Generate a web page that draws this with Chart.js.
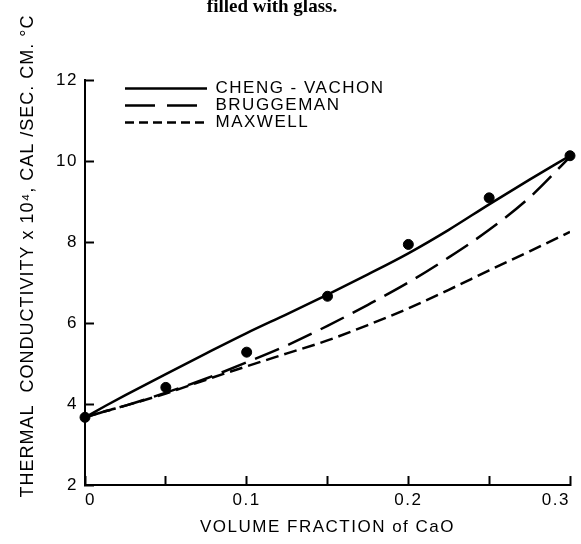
<!DOCTYPE html>
<html>
<head>
<meta charset="utf-8">
<script src="https://cdn.jsdelivr.net/npm/chart.js@4.4.0/dist/chart.umd.min.js"></script>
<style>
  html, body { margin: 0; padding: 0; background: #fff; }
</style>
</head>
<body>
<canvas id="chart" width="581" height="544"></canvas>
<script>
const curveFractions = [0, 0.0125, 0.025, 0.05, 0.075, 0.1, 0.125, 0.15, 0.175, 0.2, 0.225, 0.25, 0.275, 0.3];
const chengVachon = [3.67, 3.95, 4.22, 4.74, 5.25, 5.75, 6.22, 6.7, 7.2, 7.72, 8.3, 8.93, 9.54, 10.13];
const bruggeman   = [3.67, 3.82, 3.96, 4.28, 4.63, 5.03, 5.45, 5.93, 6.45, 7.0, 7.62, 8.3, 9.1, 10.1];
const maxwell     = [3.67, 3.82, 3.96, 4.26, 4.6, 4.93, 5.25, 5.57, 5.95, 6.36, 6.82, 7.3, 7.77, 8.25];

// measured points
const measuredFractions = [0, 0.05, 0.1, 0.15, 0.2, 0.25, 0.3];
const measuredValues = [3.67, 4.41, 5.28, 6.66, 7.94, 9.09, 10.13];

const seriesNames = ['CHENG - VACHON', 'BRUGGEMAN', 'MAXWELL'];
const caption = 'filled with glass.';
const xTitle = 'VOLUME FRACTION of CaO';
const yTitle = 'THERMAL  CONDUCTIVITY x 10\u2074, CAL /SEC. CM. \u00b0C';

const dashes = [[], [26, 10], [13, 6]];
const legendDashes = [[], [30, 12], [9, 5]];
const FONT = 'Liberation Sans';

const pairs = (xs, ys) => xs.map((x, i) => ({x: x, y: ys[i]}));

const curve = (i, values) => ({
    type: 'line',
    label: seriesNames[i],
    data: pairs(curveFractions, values),
    borderColor: '#000',
    borderWidth: 2.5,
    borderDash: dashes[i],
    pointRadius: 0,
    cubicInterpolationMode: 'monotone',
    fill: false
});

const textPlugin = {
    id: 'texts',
    afterLayout(chart) {
        // legend sits inside the plot, a bit in from the y axis
        if (chart.legend) {
            chart.legend.left = chart.chartArea.left + 40;
            chart.legend.top = chart.chartArea.top;
        }
    },
    beforeDraw(chart) {
        chart.ctx.letterSpacing = '1.5px';
    },
    afterDraw(chart) {
        const ctx = chart.ctx;
        ctx.save();
        ctx.fillStyle = '#000';
        ctx.textAlign = 'center';
        ctx.letterSpacing = '0px';
        ctx.font = 'bold 19px "Liberation Serif"';
        ctx.textBaseline = 'alphabetic';
        ctx.fillText(caption, 272, 12);
        ctx.translate(28, 256);
        ctx.rotate(-Math.PI / 2);
        ctx.letterSpacing = '1px';
        ctx.font = '18px "' + FONT + '"';
        ctx.textBaseline = 'middle';
        ctx.fillText(yTitle, 0, 0);
        ctx.restore();
    }
};

const ctx = document.getElementById('chart').getContext('2d');
new Chart(ctx, {
    data: {
        datasets: [
            curve(0, chengVachon),
            curve(1, bruggeman),
            curve(2, maxwell),
            {
                type: 'scatter',
                label: 'measured',
                data: pairs(measuredFractions, measuredValues),
                backgroundColor: '#000',
                borderColor: '#000',
                pointRadius: 5,
                clip: false
            }
        ]
    },
    options: {
        responsive: false,
        animation: false,
        layout: { padding: { top: 80, right: 11, left: 0, bottom: 0 } },
        plugins: {
            tooltip: { enabled: false },
            legend: {
                position: 'chartArea',
                align: 'start',
                labels: {
                    usePointStyle: true,
                    pointStyleWidth: 82,
                    padding: 0,
                    color: '#000',
                    font: { family: FONT, size: 17, lineHeight: 16 / 17 },
                    generateLabels: () => seriesNames.map((name, i) => ({
                        text: name,
                        datasetIndex: i,
                        hidden: false,
                        pointStyle: 'line',
                        strokeStyle: '#000',
                        fillStyle: '#000',
                        fontColor: '#000',
                        lineWidth: 2.5,
                        lineDash: legendDashes[i]
                    }))
                }
            }
        },
        scales: {
            x: {
                type: 'linear',
                min: 0,
                max: 0.3,
                afterFit: scale => {
                    scale.height = 59;
                    scale.paddingLeft = 0;
                    scale.paddingRight = 0;
                },
                ticks: {
                    stepSize: 0.05,
                    autoSkip: false,
                    maxRotation: 0,
                    align: 'inner',
                    padding: 14,
                    color: '#000',
                    font: { family: FONT, size: 17 },
                    callback: v => {
                        const n = Math.round(v * 100);
                        if (n % 10 !== 0) return '';
                        return n === 0 ? '0' : (n / 100).toFixed(1);
                    }
                },
                grid: { drawOnChartArea: false, tickLength: -9, tickColor: '#000', tickWidth: 2 },
                border: { color: '#000', width: 2 },
                title: {
                    display: true,
                    text: xTitle,
                    color: '#000',
                    font: { family: FONT, size: 17 },
                    padding: { top: 0, bottom: 6 }
                }
            },
            y: {
                min: 2,
                max: 12,
                afterFit: scale => {
                    scale.width = 85;
                    scale.paddingTop = 0;
                    scale.paddingBottom = 0;
                },
                ticks: {
                    stepSize: 2,
                    padding: 16,
                    color: '#000',
                    font: { family: FONT, size: 17 }
                },
                grid: { drawOnChartArea: false, tickLength: -9, tickColor: '#000', tickWidth: 2 },
                border: { color: '#000', width: 2 }
            }
        }
    },
    plugins: [textPlugin]
});
</script>
</body>
</html>
